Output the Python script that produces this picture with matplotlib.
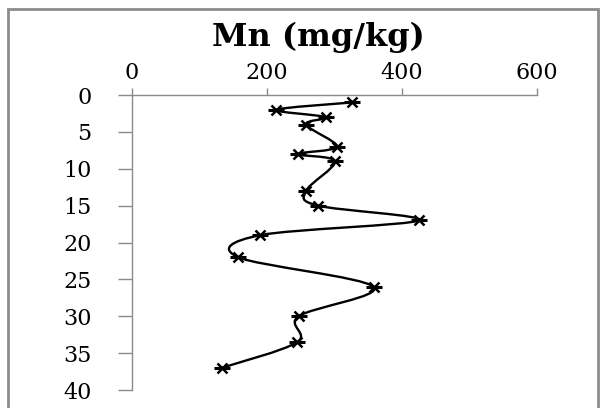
import matplotlib
matplotlib.use('Agg')
import matplotlib.pyplot as plt
from matplotlib.path import Path
from matplotlib.patches import PathPatch, Rectangle
import numpy as np

# depth (cm) vs Mn (mg/kg)
depth = [1, 2, 3, 4, 7, 8, 9, 13, 15, 17, 19, 22, 26, 30, 33.5, 37]
mn = [326, 214, 287, 258, 304, 246, 301, 258, 276, 425, 190, 158, 358, 247, 245, 133]
x_ticks = [0, 200, 400, 600]
y_ticks = [0, 5, 10, 15, 20, 25, 30, 35, 40]
title = 'Mn (mg/kg)'

plt.rcParams['font.family'] = 'DejaVu Serif'

fig = plt.figure(figsize=(6, 4.08), dpi=100)
ax = fig.add_axes([0.2195, 0.044, 0.6755, 0.723])

# excel style smoothed line: bezier segments through the points
pts = np.column_stack([mn, depth]).astype(float)
ext = np.vstack([pts[0], pts, pts[-1]])
verts = [pts[0]]
codes = [Path.MOVETO]
for i in range(len(pts) - 1):
    p0, p1, p2, p3 = ext[i], ext[i + 1], ext[i + 2], ext[i + 3]
    verts += [p1 + (p2 - p0) / 6, p2 - (p3 - p1) / 6, p2]
    codes += [Path.CURVE4] * 3
ax.add_patch(PathPatch(Path(verts, codes), facecolor='none', edgecolor='black', lw=1.7))

# star markers (look like wide bow-ties in the reference)
ax.plot(mn, depth, ls='none', marker='x', ms=6.5, mew=1.8, color='black')
ax.plot(mn, depth, ls='none', marker='_', ms=11, mew=2.2, color='black')

ax.set_xlim(0, 600)
ax.set_ylim(40, 0)
ax.set_xticks(x_ticks)
ax.set_yticks(y_ticks)
ax.xaxis.tick_top()
for s in ['right', 'bottom']:
    ax.spines[s].set_visible(False)
for s in ['top', 'left']:
    ax.spines[s].set_color('#8a8a8a')
    ax.spines[s].set_linewidth(1.0)
ax.tick_params(axis='x', direction='out', length=5, width=1, color='#8a8a8a',
               pad=3, labelsize=16)
ax.tick_params(axis='y', direction='out', length=10, width=1, color='#8a8a8a',
               pad=19, labelsize=16)

fig.text(0.53, 0.887, title, ha='center', va='baseline', fontsize=23, fontweight='bold')

# outer chart frame
fig.patches.append(Rectangle((0.0133, -0.2), 0.9834, 1.178, transform=fig.transFigure,
                             fill=False, edgecolor='#8c8c8c', lw=2))

fig.savefig('out.png', dpi=100)
